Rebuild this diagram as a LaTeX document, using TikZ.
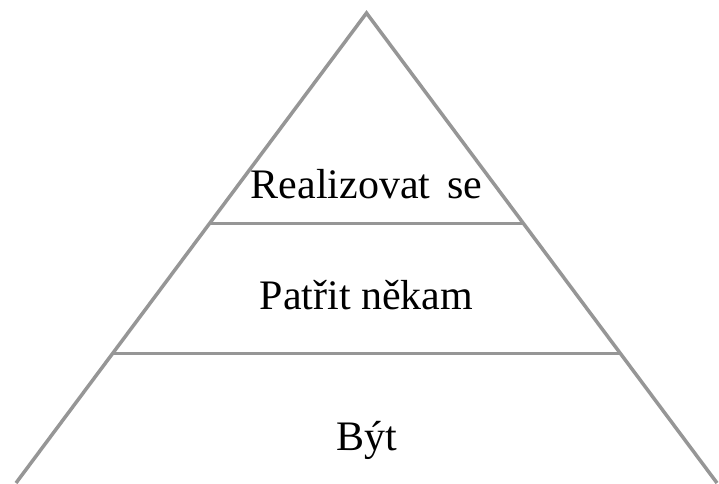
\documentclass[tikz,border=0pt]{standalone}
\usepackage{fontspec}
\setmainfont{Liberation Serif}
\usetikzlibrary{calc}
\definecolor{pyrgray}{RGB}{150,150,150}
\tikzset{
  level/.style={draw=pyrgray, line width=3.5pt},
  label/.style={anchor=base, font=\fontsize{42}{48}\selectfont, inner sep=0pt}
}
\begin{document}
\begin{tikzpicture}[x=1pt, y=-1pt]

% Frame
\useasboundingbox (0,0) rectangle (719,483);

% Corners of the pyramid
\coordinate (top) at (366.5,13);
\coordinate (bl) at (16,483);
\coordinate (br) at (717,483);

% Level ends
\coordinate (ul) at ($(top)!0.4474!(bl)$);
\coordinate (ur) at ($(top)!0.4474!(br)$);
\coordinate (ml) at ($(top)!0.724!(bl)$);
\coordinate (mr) at ($(top)!0.724!(br)$);

% Sides
\draw[level, line join=miter] (bl) -- (top) -- (br);

% Levels
\draw[level] (ul) -- (ur);
\draw[level] (ml) -- (mr);

% Labels
\node[label] (self) at (366.5,198) {Realizovat\hspace{0.15em} se};
\node[label] (belong) at (366.5,309) {Patřit někam};
\node[label] (be) at (366.5,450) {Být};

\end{tikzpicture}
\end{document}
